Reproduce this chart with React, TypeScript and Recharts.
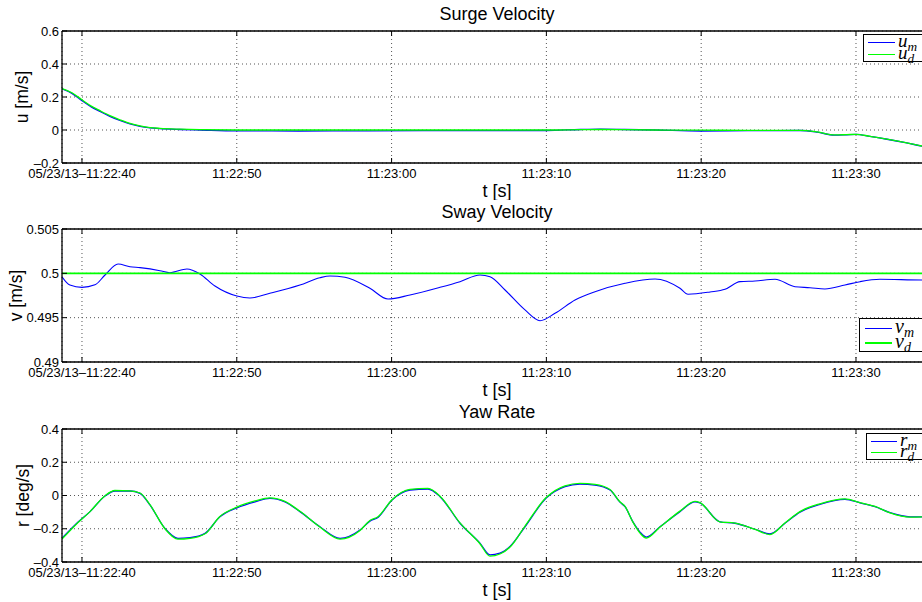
import React from 'react';
import { LineChart, Line, XAxis, YAxis, CartesianGrid, Legend, Label } from 'recharts';

const FONT = '"Liberation Sans", Arial, Helvetica, sans-serif';
const MATH_FONT = '"Liberation Serif", "DejaVu Serif", serif';

// ---- time axis (seconds after 11:22:00) ----
const timeDomain: [number, number] = [38.71, 94.91];
const timeTicks = [40, 50, 60, 70, 80, 90];
const timeTickLabels = ['05/23/13–11:22:40', '11:22:50', '11:23:00', '11:23:10', '11:23:20', '11:23:30'];

// ---- surge velocity ----
const surgeTime = [38.71, 39.35, 40.0, 40.6, 41.16, 41.8, 42.45, 43.1, 43.75, 44.4, 45.04, 46.3, 47.6, 50.0, 54.0, 58.0, 62.0, 66.0, 70.0, 72.2, 73.5, 75.0, 77.0, 80.0, 83.0, 86.4, 87.5, 88.6, 89.4, 90.0, 90.9, 92.0, 93.2, 94.26, 94.91];
const surgeMeasured = [0.249, 0.222, 0.178, 0.14, 0.113, 0.083, 0.058, 0.037, 0.022, 0.013, 0.008, 0.003, 0.0, -0.005, -0.006, -0.005, -0.004, -0.004, -0.003, 0.003, 0.005, 0.003, 0.0, -0.006, -0.004, -0.003, -0.013, -0.031, -0.029, -0.027, -0.039, -0.056, -0.077, -0.098, -0.11];
const surgeDesired = [0.251, 0.226, 0.183, 0.145, 0.117, 0.087, 0.062, 0.04, 0.025, 0.015, 0.01, 0.005, 0.002, 0.0, 0.0, 0.0, 0.0, 0.0, 0.0, 0.002, 0.003, 0.002, 0.0, -0.001, -0.002, -0.002, -0.012, -0.03, -0.028, -0.026, -0.038, -0.055, -0.076, -0.097, -0.109];
const surgeTicks = [-0.2, 0, 0.2, 0.4, 0.6];
const surgeTickLabels = ['–0.2', '0', '0.2', '0.4', '0.6'];

// ---- sway velocity ----
const swayTime = [38.71, 39.22, 40.0, 40.84, 41.49, 42.33, 43.1, 43.75, 45.04, 45.68, 46.78, 47.62, 48.59, 50.01, 50.85, 52.14, 54.08, 55.37, 56.02, 56.99, 58.6, 59.77, 61.19, 63.13, 64.42, 65.71, 66.36, 67.33, 68.62, 69.59, 70.56, 71.85, 73.14, 75.08, 77.02, 78.63, 79.15, 80.57, 81.54, 82.51, 83.48, 84.77, 86.06, 87.03, 87.99, 89.29, 90.26, 91.55, 94.26, 94.91];
const swayMeasured = [0.49962, 0.49868, 0.49842, 0.4987, 0.49981, 0.50105, 0.50075, 0.50064, 0.5003, 0.50007, 0.50049, 0.49993, 0.49857, 0.49744, 0.49722, 0.49775, 0.49868, 0.4995, 0.4997, 0.49955, 0.49831, 0.4971, 0.49756, 0.49842, 0.49906, 0.49981, 0.49962, 0.49812, 0.49587, 0.49466, 0.49549, 0.49699, 0.49793, 0.49888, 0.49936, 0.49831, 0.49764, 0.4979, 0.4982, 0.49906, 0.49914, 0.49933, 0.49849, 0.49838, 0.49823, 0.49868, 0.49906, 0.49933, 0.49925, 0.49925];
const swayDesiredTime = [38.71, 94.91];
const swayDesired = [0.5, 0.5];
const swayTicks = [0.49, 0.495, 0.5, 0.505];
const swayTickLabels = ['0.49', '0.495', '0.5', '0.505'];

// ---- yaw rate ----
const yawTime = [38.71, 39.55, 40.52, 41.49, 42.13, 43.1, 43.75, 44.39, 45.36, 46.2, 46.98, 47.95, 48.91, 50.01, 51.18, 52.14, 53.11, 54.08, 55.37, 56.67, 57.96, 58.6, 59.12, 60.03, 61.19, 62.35, 63.13, 64.42, 65.71, 66.36, 67.0, 67.65, 68.62, 69.97, 71.2, 72.17, 73.14, 74.11, 74.75, 75.08, 75.6, 76.05, 76.45, 77.34, 78.63, 79.6, 79.92, 81.21, 82.18, 83.48, 84.44, 85.41, 86.38, 87.67, 89.29, 90.26, 91.23, 92.2, 93.49, 94.26, 94.91];
const yawMeasured = [-0.257, -0.177, -0.097, -0.003, 0.027, 0.027, 0.013, -0.057, -0.198, -0.258, -0.254, -0.228, -0.128, -0.074, -0.038, -0.017, -0.038, -0.097, -0.188, -0.258, -0.208, -0.154, -0.132, -0.027, 0.033, 0.039, -0.007, -0.167, -0.287, -0.357, -0.347, -0.307, -0.188, -0.017, 0.053, 0.069, 0.063, 0.033, -0.04, -0.067, -0.16, -0.22, -0.25, -0.188, -0.097, -0.038, -0.045, -0.158, -0.167, -0.203, -0.231, -0.167, -0.1, -0.053, -0.023, -0.044, -0.067, -0.103, -0.128, -0.128, -0.135];
const yawDesired = [-0.262, -0.18, -0.097, -0.001, 0.03, 0.028, 0.015, -0.055, -0.2, -0.263, -0.258, -0.23, -0.126, -0.07, -0.033, -0.014, -0.035, -0.095, -0.19, -0.262, -0.21, -0.15, -0.128, -0.025, 0.037, 0.043, -0.004, -0.165, -0.29, -0.365, -0.352, -0.31, -0.184, -0.014, 0.058, 0.073, 0.067, 0.036, -0.038, -0.066, -0.162, -0.226, -0.256, -0.19, -0.094, -0.035, -0.043, -0.158, -0.166, -0.204, -0.235, -0.166, -0.097, -0.05, -0.02, -0.043, -0.066, -0.104, -0.13, -0.129, -0.136];
const yawTicks = [-0.4, -0.2, 0, 0.2, 0.4];
const yawTickLabels = ['–0.4', '–0.2', '0', '0.2', '0.4'];

const BLUE = '#0000ff';
const GREEN = '#00ff00';

const toRows = (time: number[], values: number[]) => time.map((t, i) => ({ t, v: values[i] }));

type SeriesDef = { key: string; base: string; sub: string; color: string; width: number; sampleWidth: number; rows: { t: number; v: number }[] };

type PanelProps = {
  top: number;
  height: number;
  marginTop: number;
  xAxisHeight: number;
  title: string;
  yLabel: string;
  yLabelX: number;
  yDomain: [number, number];
  yTicks: number[];
  yTickLabels: string[];
  series: SeriesDef[];
  legendLeft: number;
  legendTop: number;
  legendRowH: number;
  legendPadLeft: number;
  legendSample: number;
  legendFont: number;
};

function LegendBox({ p }: { p: PanelProps }) {
  return (
    <div
      style={{
        border: '1px solid #000',
        background: '#fff',
        padding: `1.5px 20px 0.5px ${p.legendPadLeft}px`,
        boxSizing: 'content-box',
      }}
    >
      {p.series.map((s) => (
        <div key={s.key} style={{ display: 'flex', alignItems: 'center', height: p.legendRowH }}>
          <div style={{ width: p.legendSample, height: 0, borderTop: `${s.sampleWidth}px solid ${s.color}`, marginRight: 3 }} />
          <span
            style={{
              fontFamily: MATH_FONT,
              fontStyle: 'italic',
              fontSize: p.legendFont,
              lineHeight: `${p.legendRowH}px`,
              whiteSpace: 'nowrap',
              position: 'relative',
              top: -1.5,
            }}
          >
            {s.base}
            <span style={{ fontSize: p.legendFont * 0.7, verticalAlign: '-0.3em', lineHeight: 0 }}>{s.sub}</span>
          </span>
        </div>
      ))}
    </div>
  );
}

function Panel(p: PanelProps) {
  const xTick = (props: any) => {
    const { x, y, payload } = props;
    const idx = timeTicks.indexOf(payload.value);
    return (
      <text x={x} y={y} textAnchor="middle" dominantBaseline="central" fontSize={13} fontFamily={FONT} fill="#000">
        {idx >= 0 ? timeTickLabels[idx] : ''}
      </text>
    );
  };
  const yTick = (props: any) => {
    const { x, y, payload } = props;
    const idx = p.yTicks.indexOf(payload.value);
    return (
      <text x={x} y={y} textAnchor="end" dominantBaseline="central" fontSize={13} fontFamily={FONT} fill="#000">
        {idx >= 0 ? p.yTickLabels[idx] : ''}
      </text>
    );
  };
  const emptyTick = () => <g />;

  const titleLabel = (props: any) => {
    const vb = props.viewBox || { x: 62, y: p.marginTop, width: 870, height: 1 };
    return (
      <text x={vb.x + vb.width / 2} y={vb.y + vb.height - 17.5} textAnchor="middle" dominantBaseline="central" fontSize={18} fontFamily={FONT} fill="#000">
        {p.title}
      </text>
    );
  };
  const xLabel = (props: any) => {
    const vb = props.viewBox || { x: 62, y: p.height - p.xAxisHeight, width: 870, height: p.xAxisHeight };
    return (
      <text x={vb.x + vb.width / 2} y={vb.y + 27.5} textAnchor="middle" dominantBaseline="central" fontSize={18} fontFamily={FONT} fill="#000">
        t [s]
      </text>
    );
  };
  const yLabel = (props: any) => {
    const vb = props.viewBox || { x: 0, y: p.marginTop + 1, width: 62, height: 132 };
    const cy = vb.y + vb.height / 2;
    return (
      <text
        x={p.yLabelX}
        y={cy}
        transform={`rotate(-90, ${p.yLabelX}, ${cy})`}
        textAnchor="middle"
        dominantBaseline="central"
        fontSize={17.5}
        fontFamily={FONT}
        fill="#000"
      >
        {p.yLabel}
      </text>
    );
  };

  return (
    <div style={{ position: 'absolute', left: 0, top: p.top }}>
      <LineChart width={960} height={p.height} margin={{ top: p.marginTop, right: 28, bottom: 0, left: 0 }}>
        <CartesianGrid stroke="#555" strokeDasharray="1 3" strokeWidth={1} />
        <XAxis
          type="number"
          dataKey="t"
          domain={timeDomain}
          ticks={timeTicks}
          allowDataOverflow
          interval={0}
          height={p.xAxisHeight}
          axisLine={{ stroke: '#000', strokeWidth: 1.3 }}
          tickLine={{ stroke: '#000', strokeWidth: 1 }}
          tickSize={-5}
          tickMargin={15.5}
          tick={xTick}
        >
          <Label content={xLabel} />
        </XAxis>
        <XAxis
          xAxisId="top"
          orientation="top"
          type="number"
          dataKey="t"
          domain={timeDomain}
          ticks={timeTicks}
          allowDataOverflow
          interval={0}
          height={1}
          axisLine={{ stroke: '#000', strokeWidth: 1.3 }}
          tickLine={{ stroke: '#000', strokeWidth: 1 }}
          tickSize={-5}
          tick={emptyTick}
        >
          <Label content={titleLabel} />
        </XAxis>
        <YAxis
          type="number"
          domain={p.yDomain}
          ticks={p.yTicks}
          allowDataOverflow
          interval={0}
          width={62}
          axisLine={{ stroke: '#000', strokeWidth: 1.3 }}
          tickLine={{ stroke: '#000', strokeWidth: 1 }}
          tickSize={-5}
          tickMargin={8}
          tick={yTick}
        >
          <Label content={yLabel} />
        </YAxis>
        {p.series.map((s) => (
          <Line
            key={s.key}
            data={s.rows}
            dataKey="v"
            type="monotone"
            stroke={s.color}
            strokeWidth={s.width}
            dot={false}
            activeDot={false}
            isAnimationActive={false}
          />
        ))}
        <Legend
          layout="vertical"
          align="center"
          verticalAlign="middle"
          wrapperStyle={{ left: p.legendLeft, top: p.legendTop, width: 'auto', height: 'auto' }}
          content={() => <LegendBox p={p} />}
        />
      </LineChart>
    </div>
  );
}

export default function App() {
  const panels: PanelProps[] = [
    {
      top: 0,
      height: 200,
      marginTop: 30,
      xAxisHeight: 37,
      title: 'Surge Velocity',
      yLabel: 'u [m/s]',
      yLabelX: 21.5,
      yDomain: [-0.2, 0.6],
      yTicks: surgeTicks,
      yTickLabels: surgeTickLabels,
      series: [
        { key: 'um', base: 'u', sub: 'm', color: BLUE, width: 1.3, sampleWidth: 1, rows: toRows(surgeTime, surgeMeasured) },
        { key: 'ud', base: 'u', sub: 'd', color: GREEN, width: 1.3, sampleWidth: 1, rows: toRows(surgeTime, surgeDesired) },
      ],
      legendLeft: 863,
      legendTop: 34,
      legendRowH: 12,
      legendPadLeft: 4,
      legendSample: 27,
      legendFont: 19,
    },
    {
      top: 200,
      height: 200,
      marginTop: 28,
      xAxisHeight: 38,
      title: 'Sway Velocity',
      yLabel: 'v [m/s]',
      yLabelX: 16,
      yDomain: [0.49, 0.505],
      yTicks: swayTicks,
      yTickLabels: swayTickLabels,
      series: [
        { key: 'vm', base: 'v', sub: 'm', color: BLUE, width: 1.1, sampleWidth: 1, rows: toRows(swayTime, swayMeasured) },
        { key: 'vd', base: 'v', sub: 'd', color: GREEN, width: 1.6, sampleWidth: 2, rows: toRows(swayDesiredTime, swayDesired) },
      ],
      legendLeft: 859,
      legendTop: 118,
      legendRowH: 15,
      legendPadLeft: 5,
      legendSample: 27,
      legendFont: 20,
    },
    {
      top: 400,
      height: 202,
      marginTop: 28,
      xAxisHeight: 40,
      title: 'Yaw Rate',
      yLabel: 'r [deg/s]',
      yLabelX: 23,
      yDomain: [-0.4, 0.4],
      yTicks: yawTicks,
      yTickLabels: yawTickLabels,
      series: [
        { key: 'rm', base: 'r', sub: 'm', color: BLUE, width: 1.3, sampleWidth: 1, rows: toRows(yawTime, yawMeasured) },
        { key: 'rd', base: 'r', sub: 'd', color: GREEN, width: 1.3, sampleWidth: 1, rows: toRows(yawTime, yawDesired) },
      ],
      legendLeft: 866,
      legendTop: 33,
      legendRowH: 11.6,
      legendPadLeft: 4,
      legendSample: 26,
      legendFont: 19,
    },
  ];

  return (
    <div
      style={{
        position: 'absolute',
        left: 0,
        top: 0,
        width: 922,
        height: 602,
        overflow: 'hidden',
        background: '#fff',
        fontFamily: FONT,
      }}
    >
      {panels.map((p) => (
        <Panel key={p.title} {...p} />
      ))}
    </div>
  );
}
